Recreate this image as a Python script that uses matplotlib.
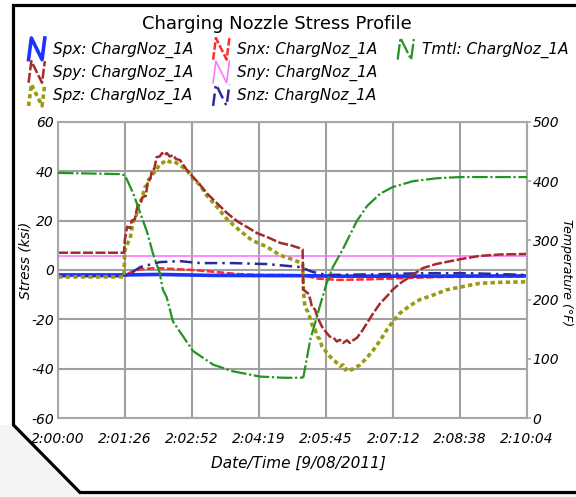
import numpy as np
import matplotlib
matplotlib.use("Agg")
import matplotlib.pyplot as plt
from matplotlib.lines import Line2D
from matplotlib.legend_handler import HandlerBase
from matplotlib.transforms import Affine2D
from matplotlib.patches import Polygon

# ---------------- data ----------------
title = "Charging Nozzle Stress Profile"
x_label = "Date/Time [9/08/2011]"
y_label = "Stress (ksi)"
y2_label = "Temperature (°F)"

x_tick_seconds = [0, 86, 172, 259, 345, 432, 518, 604]
x_tick_labels = ["2:00:00", "2:01:26", "2:02:52", "2:04:19",
                 "2:05:45", "2:07:12", "2:08:38", "2:10:04"]
stress_ticks = [-60, -40, -20, 0, 20, 40, 60]
temp_ticks = [0, 100, 200, 300, 400, 500]

# Spx (ksi)
spx_t = [0, 86, 130, 200, 316, 360, 450, 604]
spx_v = [-2.0, -2.0, -1.8, -2.2, -2.3, -2.5, -2.5, -2.4]

# Snx (ksi)
snx_t = [0, 86, 95, 106, 127, 150, 174, 200, 230, 260, 290, 316, 335, 360, 400, 450, 500, 604]
snx_v = [-2.0, -2.0, -0.8, 0.3, 0.8, 0.4, 0.0, -0.7, -1.6, -2.0, -2.0, -2.2, -3.5, -4.0, -3.8, -3.2, -2.8, -2.6]

# Snz (ksi)
snz_t = [0, 86, 95, 106, 131, 157, 183, 225, 269, 312, 328, 346, 400, 470, 530, 604]
snz_v = [-2.5, -2.5, -1.0, 1.2, 3.2, 3.6, 2.8, 2.8, 2.4, 1.2, -0.8, -2.0, -1.8, -1.3, -1.3, -2.0]

# Sny (ksi)
sny_t = [0, 604]
sny_v = [5.6, 5.6]

# Spy (ksi)
spy_t = [0, 85, 86, 89, 93, 95, 99, 102, 106, 109, 113, 116, 119, 121, 124, 127,
         131, 134, 137, 140, 144, 148, 152, 157, 166, 174, 183, 192, 205, 218, 232,
         243, 256, 269, 286, 300, 312, 315, 316, 320, 322, 325, 327, 331, 334, 337,
         340, 346, 350, 355, 359, 363, 367, 372, 376, 380, 385, 392, 398, 406, 415,
         424, 431, 440, 453, 470, 488, 501, 520, 543, 570, 604]
spy_v = [7.0, 7.0, 12.0, 17.5, 17.0, 20.0, 20.5, 25.5, 27.0, 29.6, 30.0, 36.5, 37.0, 40.5, 41.0, 45.8,
         46.0, 47.4, 46.5, 47.4, 46.0, 46.6, 45.0, 44.6, 40.5, 37.7, 34.5, 31.0, 27.0, 23.0, 19.5,
         17.5, 15.0, 13.4, 11.0, 10.0, 8.8, 8.3, -8.0, -9.0, -9.5, -12.0, -15.0, -16.0, -19.0, -21.0,
         -23.0, -25.5, -27.0, -27.5, -29.0, -28.3, -29.6, -28.5, -29.6, -28.5, -27.5, -24.5, -21.5, -17.5, -13.5,
         -10.5, -8.0, -5.5, -2.8, 0.8, 2.5, 3.3, 4.5, 5.7, 6.3, 6.5]

# Spz (ksi)
spz_t = [0, 85, 86, 90, 93, 97, 100, 104, 106, 109, 112, 115, 118, 122, 126, 131,
         135, 140, 144, 148, 152, 157, 166, 174, 183, 192, 205, 218, 234, 250, 269,
         286, 300, 312, 315, 316, 318, 322, 325, 328, 331, 334, 337, 340, 345, 350,
         357, 363, 367, 370, 374, 378, 383, 389, 398, 406, 415, 424, 431, 440, 453,
         466, 480, 501, 520, 543, 570, 604]
spz_v = [-2.8, -2.8, 8.0, 11.0, 13.0, 20.0, 21.0, 27.0, 27.5, 30.0, 33.6, 34.5, 37.0, 39.0, 40.0, 43.0,
         43.5, 44.6, 43.8, 44.2, 43.5, 42.5, 40.5, 37.0, 34.4, 30.0, 25.5, 20.5, 16.0, 12.0, 9.4,
         6.0, 4.5, 3.0, 2.5, -8.0, -15.0, -17.0, -20.0, -23.0, -24.0, -27.0, -28.0, -31.0, -33.0, -35.0,
         -37.0, -39.0, -38.5, -40.5, -39.5, -40.5, -39.5, -38.5, -35.5, -32.5, -28.5, -24.0, -21.0, -17.6, -14.5,
         -12.0, -10.5, -8.0, -6.8, -5.4, -5.0, -4.8]

# Tmtl (°F, right axis)
tmtl_t = [0, 40, 80, 86, 89, 97, 106, 115, 122, 131, 135, 140, 148, 174, 200, 225,
          260, 290, 312, 316, 325, 331, 337, 346, 354, 366, 385, 398, 415, 431, 457,
          488, 518, 560, 604]
tmtl_v = [414, 413, 412, 410, 402, 379, 346, 313, 279, 245, 217, 204, 163, 113, 90, 79,
          70, 68, 68, 69, 133, 160, 188, 228, 255, 283, 333, 358, 379, 390, 400,
          405, 407, 407, 407]

# ---------------- styles ----------------
st_spx = dict(color="#1a33ff", lw=2.6, ls="-")
st_snx = dict(color="#ff2a2a", lw=1.8, dashes=(3, 1))
st_tmtl = dict(color="#239323", lw=1.6, dashes=(7, 1.2, 1, 1.2))
st_spy = dict(color="#a52a2a", lw=1.8, dashes=(4, 1))
st_sny = dict(color="#ff77ff", lw=1.2, ls="-")
st_spz = dict(color="#9a9a10", lw=2.6, dashes=(1.2, 0.9))
st_snz = dict(color="#2a2a99", lw=1.8, dashes=(5, 2, 1, 2))

W, H = 576, 497
fig = plt.figure(figsize=(W / 100, H / 100), dpi=100)
fig.patch.set_facecolor("white")

pix = Affine2D().scale(1 / W, -1 / H).translate(0, 1) + fig.transFigure

# decorative frame
fig.add_artist(Polygon([(0, 425), (13, 425), (80, 492), (W, 492), (W, H), (0, H)],
                       closed=True, facecolor="#f4f4f4", edgecolor="none", transform=pix))
fig.add_artist(Line2D([W + 5, 13.5, 13.5, 80, W + 5], [5.5, 5.5, 425, 492.5, 492.5],
                      color="black", lw=2.3, transform=pix, solid_joinstyle="miter"))

ax = fig.add_axes([58 / W, 1 - 418 / H, 469 / W, 296 / H])
ax.set_facecolor("white")

ax.plot(sny_t, sny_v, **st_sny)
ax.plot(snx_t, snx_v, **st_snx)
ax.plot(spx_t, spx_v, **st_spx)
ax.plot(snz_t, snz_v, **st_snz)
ax.plot(spz_t, spz_v, **st_spz)
ax.plot(spy_t, spy_v, **st_spy)

ax.set_xlim(0, 604)
ax.set_ylim(-60, 60)
ax.set_xticks(x_tick_seconds)
ax.set_xticklabels(x_tick_labels, fontsize=10, style="italic")
ax.set_yticks(stress_ticks)
ax.set_yticklabels([str(v) for v in stress_ticks], fontsize=10, style="italic")
ax.tick_params(axis="x", length=0, pad=10)
ax.tick_params(axis="y", length=0, pad=3)
ax.grid(True, color="#a0a0a0", lw=1.5)
ax.set_axisbelow(True)
for sp in ax.spines.values():
    sp.set_color("#a8a8a8")
    sp.set_linewidth(1.5)

ax.set_ylabel(y_label, fontsize=10, style="italic", ha="center", va="center")
ax.yaxis.set_label_coords((26 - 58) / 469, (418 - 260) / 296)
ax.set_xlabel(x_label, fontsize=11, style="italic", ha="center", va="center")
ax.xaxis.set_label_coords((298 - 58) / 469, -(463 - 418) / 296)

ax2 = ax.twinx()
ax2.plot(tmtl_t, tmtl_v, **st_tmtl)
ax2.set_ylim(0, 500)
ax2.set_yticks(temp_ticks)
ax2.set_yticklabels([str(v) for v in temp_ticks], fontsize=10, style="italic")
ax2.tick_params(axis="y", length=3, pad=1, color="#a8a8a8", width=1.2)
for sp in ax2.spines.values():
    sp.set_visible(False)
ax2.set_ylabel(y2_label, fontsize=9, style="italic", rotation=270, ha="center", va="center")
ax2.yaxis.set_label_coords((567 - 58) / 469, (418 - 273) / 296)

fig.text(277 / W, 1 - 24 / H, title, ha="center", va="center", fontsize=13)


class HandlerN(HandlerBase):
    def create_artists(self, legend, orig_handle, xdescent, ydescent,
                       width, height, fontsize, trans):
        x0, y0 = -xdescent, -ydescent
        xs = [x0 + 0.12 * width, x0 + 0.25 * width, x0 + 0.75 * width, x0 + 0.88 * width]
        ys = [y0, y0 + height, y0, y0 + height]
        ln = Line2D(xs, ys)
        ln.update_from(orig_handle)
        ln.set_transform(trans)
        return [ln]


handles = [Line2D([], [], **st_spx), Line2D([], [], **st_spy), Line2D([], [], **st_spz),
           Line2D([], [], **st_snx), Line2D([], [], **st_sny), Line2D([], [], **st_snz),
           Line2D([], [], **st_tmtl), Line2D([], [], alpha=0), Line2D([], [], alpha=0)]
labels = ["Spx: ChargNoz_1A", "Spy: ChargNoz_1A", "Spz: ChargNoz_1A",
          "Snx: ChargNoz_1A", "Sny: ChargNoz_1A", "Snz: ChargNoz_1A",
          "Tmtl: ChargNoz_1A", " ", " "]
fig.legend(handles=handles, labels=labels, loc="upper left",
           bbox_to_anchor=(26 / W, 1 - 38 / H), ncol=3, frameon=False,
           prop={"style": "italic", "size": 11}, handlelength=1.4, handleheight=1.8,
           handletextpad=0.35, columnspacing=1.15, labelspacing=0.1,
           borderpad=0, borderaxespad=0, handler_map={Line2D: HandlerN()})

fig.savefig("out.png", dpi=100)
